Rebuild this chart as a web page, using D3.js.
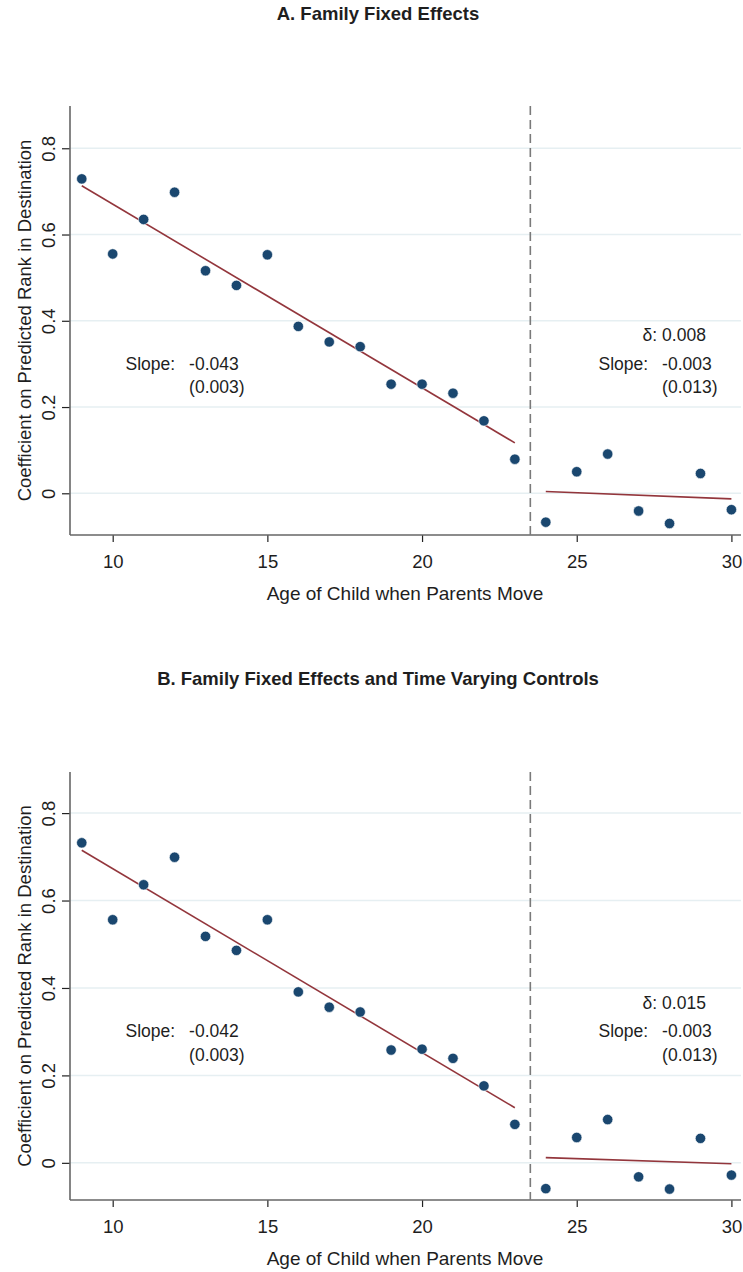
<!DOCTYPE html>
<html>
<head>
<meta charset="utf-8">
<script src="https://cdn.jsdelivr.net/npm/d3@7"></script>
<style>
  body { margin: 0; background: #fff; }
  text { font-family: "Liberation Sans", Arial, Helvetica, sans-serif; fill: #1e1e1e; }
</style>
</head>
<body>
<svg id="root"></svg>
<script>
var width = 743,
    height = 1272;

// data
var ages = [9, 10, 11, 12, 13, 14, 15, 16, 17, 18, 19, 20, 21, 22, 23, 24, 25, 26, 27, 28, 29, 30];
var coefA = [0.729, 0.555, 0.635, 0.698, 0.516, 0.482, 0.553, 0.387, 0.351, 0.340, 0.253, 0.253, 0.232, 0.168, 0.079,
             -0.067, 0.050, 0.091, -0.041, -0.070, 0.046, -0.038];
var coefB = [0.732, 0.556, 0.636, 0.699, 0.518, 0.486, 0.556, 0.391, 0.356, 0.345, 0.258, 0.260, 0.239, 0.176, 0.088,
             -0.059, 0.058, 0.099, -0.032, -0.060, 0.056, -0.028];
var fitAges = [[9, 23], [24, 30]];
var fitA = [[0.713, 0.117], [0.004, -0.013]];
var fitB = [[0.715, 0.126], [0.012, -0.002]];
var breakAge = 23.5;
var xTicks = [10, 15, 20, 25, 30];
var yTicks = [0, 0.2, 0.4, 0.6, 0.8];
var titles = ['A. Family Fixed Effects', 'B. Family Fixed Effects and Time Varying Controls'];
var notesLeft = [['-0.043', '(0.003)'], ['-0.042', '(0.003)']];
var notesRight = [['0.008', '-0.003', '(0.013)'], ['0.015', '-0.003', '(0.013)']];

var root = d3.select('#root')
    .attr('width', width)
    .attr('height', height);

var panels = [
  {top: 106, bottom: 535, yDom: [-0.0967, 0.898], titleY: 20, coef: coefA, fit: fitA, title: titles[0], nl: notesLeft[0], nr: notesRight[0]},
  {top: 772, bottom: 1200, yDom: [-0.085, 0.894], titleY: 685, coef: coefB, fit: fitB, title: titles[1], nl: notesLeft[1], nr: notesRight[1]}
];

var left = 70, right = 741;
var x = d3.scaleLinear().domain([8.62, 30.31]).range([left, right]);

panels.forEach(function(p) {
  var g = root.append('g');
  var y = d3.scaleLinear().domain(p.yDom).range([p.bottom, p.top]);

  g.append('text')
    .attr('x', 378)
    .attr('y', p.titleY)
    .attr('text-anchor', 'middle')
    .style('font-weight', 'bold')
    .style('font-size', '18.5px')
    .text(p.title);

  // grid
  g.selectAll('.grid')
    .data(yTicks)
    .enter()
      .append('line')
      .attr('x1', left)
      .attr('x2', right)
      .attr('y1', function(d) { return y(d); })
      .attr('y2', function(d) { return y(d); })
      .attr('stroke', '#e6eff2')
      .attr('stroke-width', 1.5);

  // y axis
  var yAxis = g.append('g')
    .attr('transform', 'translate(' + left + ',0)')
    .call(d3.axisLeft(y).tickValues(yTicks).tickSize(8).tickFormat(d3.format('')));
  yAxis.select('.domain').remove();
  yAxis.selectAll('.tick line').attr('stroke', '#222').attr('stroke-width', 1.2);
  yAxis.selectAll('.tick text')
    .attr('x', null).attr('dy', null)
    .attr('transform', 'translate(-15,0) rotate(-90)')
    .attr('text-anchor', 'middle')
    .style('font-size', '18.5px');

  // x axis
  var xAxis = g.append('g')
    .attr('transform', 'translate(0,' + p.bottom + ')')
    .call(d3.axisBottom(x).tickValues(xTicks).tickSize(7));
  xAxis.select('.domain').remove();
  xAxis.selectAll('.tick line').attr('stroke', '#222').attr('stroke-width', 1.2);
  xAxis.selectAll('.tick text')
    .attr('y', 33).attr('dy', null)
    .style('font-size', '18.5px');

  g.append('line')
    .attr('x1', left).attr('x2', left)
    .attr('y1', p.top).attr('y2', p.bottom)
    .attr('stroke', '#666').attr('stroke-width', 1.6);
  g.append('line')
    .attr('x1', left).attr('x2', right)
    .attr('y1', p.bottom).attr('y2', p.bottom)
    .attr('stroke', '#666').attr('stroke-width', 1.6);

  // break line
  g.append('line')
    .attr('x1', x(breakAge)).attr('x2', x(breakAge))
    .attr('y1', p.top).attr('y2', p.bottom)
    .attr('stroke', '#7a7a7a')
    .attr('stroke-width', 1.6)
    .attr('stroke-dasharray', '9,5');

  // fitted lines
  var line = d3.line()
    .x(function(d) { return x(d[0]); })
    .y(function(d) { return y(d[1]); });
  fitAges.forEach(function(a, i) {
    g.append('path')
      .attr('d', line(a.map(function(v, j) { return [v, p.fit[i][j]]; })))
      .attr('fill', 'none')
      .attr('stroke', '#93363c')
      .attr('stroke-width', 1.6);
  });

  // points
  g.selectAll('.dot')
    .data(ages)
    .enter()
      .append('circle')
      .attr('cx', function(d) { return x(d); })
      .attr('cy', function(d, i) { return y(p.coef[i]); })
      .attr('r', 5.2)
      .attr('fill', '#1a476f')
      .attr('stroke', '#fff')
      .attr('stroke-width', 0.6);

  // axis titles
  g.append('text')
    .attr('x', 405)
    .attr('y', p.bottom + 65)
    .attr('text-anchor', 'middle')
    .style('font-size', '19px')
    .text('Age of Child when Parents Move');
  g.append('text')
    .attr('transform', 'translate(31,' + ((p.top + p.bottom) / 2) + ') rotate(-90)')
    .attr('text-anchor', 'middle')
    .style('font-size', '18.5px')
    .text('Coefficient on Predicted Rank in Destination');

  // annotations
  var fs = '17.5px';
  g.append('text').attr('x', x(12.47) - 14).attr('y', y(0.287)).attr('text-anchor', 'end').style('font-size', fs).text('Slope:');
  g.append('text').attr('x', x(12.47)).attr('y', y(0.287)).style('font-size', fs).text(p.nl[0]);
  g.append('text').attr('x', x(12.47)).attr('y', y(0.232)).style('font-size', fs).text(p.nl[1]);

  g.append('text').attr('x', x(27.76) - 5).attr('y', y(0.353)).attr('text-anchor', 'end').style('font-size', fs).text('δ:');
  g.append('text').attr('x', x(27.76)).attr('y', y(0.353)).style('font-size', fs).text(p.nr[0]);
  g.append('text').attr('x', x(27.76) - 14).attr('y', y(0.287)).attr('text-anchor', 'end').style('font-size', fs).text('Slope:');
  g.append('text').attr('x', x(27.76)).attr('y', y(0.287)).style('font-size', fs).text(p.nr[1]);
  g.append('text').attr('x', x(27.76)).attr('y', y(0.232)).style('font-size', fs).text(p.nr[2]);
});
</script>
</body>
</html>
